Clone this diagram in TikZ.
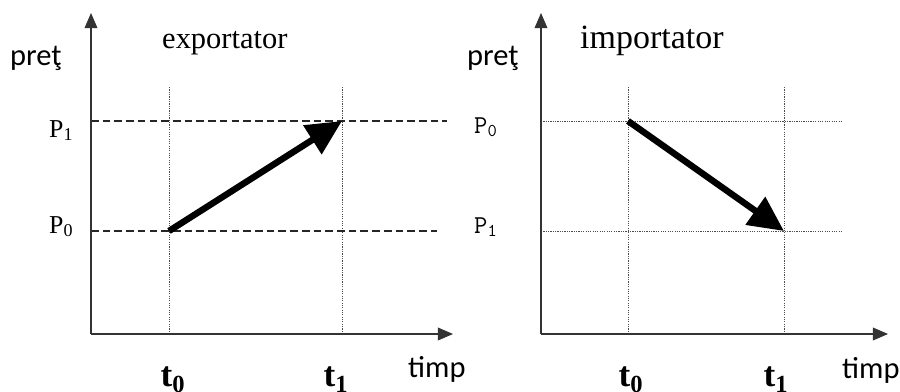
\documentclass[tikz,border=0pt]{standalone}
\usepackage{fontspec}
\setmainfont{Liberation Serif}
\setsansfont{Carlito}
\usetikzlibrary{arrows.meta}
\tikzset{
  axis/.style={draw=black!80, line width=0.9pt, -{Triangle[length=13pt, width=11pt]}},
  guide/.style={draw=black!70, line width=0.8pt, dash pattern=on 1pt off 1pt},
  level/.style={draw=black!85, line width=1.2pt, dash pattern=on 6.5pt off 3.5pt},
  move/.style={draw=black, line width=5.5pt, -{Triangle[length=30pt, width=28pt]}},
  ttl/.style={font=\fontsize{26}{30}\selectfont, anchor=base west, inner sep=0pt},
  ylab/.style={font=\sffamily\fontsize{26}{30}\selectfont, anchor=base west, inner sep=0pt},
  plab/.style={font=\fontsize{22}{26}\selectfont, anchor=base west, inner sep=0pt},
  pmono/.style={font=\ttfamily\fontsize{22}{26}\selectfont, anchor=base west, inner sep=0pt},
  tlab/.style={font=\bfseries\fontsize{30}{34}\selectfont, anchor=base, inner sep=0pt},
}
\begin{document}
\begin{tikzpicture}[x=0.03cm, y=-0.03cm]
  \useasboundingbox (0,0) rectangle (900,391);

  % left panel: exportator
  \coordinate (eO) at (91,334);
  \coordinate (eY) at (91,13);
  \coordinate (eX) at (453,334);
  \coordinate (eT0top) at (169,87);
  \coordinate (eT0bot) at (169,334);
  \coordinate (eT1top) at (342,87);
  \coordinate (eT1bot) at (342,334);
  \coordinate (eP1a) at (91,121);
  \coordinate (eP1b) at (447,121);
  \coordinate (eP0a) at (91,231);
  \coordinate (eP0b) at (437,231);
  \coordinate (eStart) at (169,231);
  \coordinate (eEnd) at (342,121);

  \draw[guide] (eT0top) -- (eT0bot);
  \draw[guide] (eT1top) -- (eT1bot);
  \draw[level] (eP1a) -- (eP1b);
  \draw[level] (eP0a) -- (eP0b);
  \draw[axis] (eO) -- (eY);
  \draw[axis] (eO) -- (eX);
  \draw[move] (eStart) -- (eEnd);

  \node[ylab] (ePret) at (10,65) {preţ};
  \node[ttl] (eTitle) at (162,48) {exportator};
  \node[plab] (eP1) at (49,137) {P\textsubscript{1}};
  \node[plab] (eP0) at (49,233) {P\textsubscript{0}};
  \node[tlab] (eT0) at (173,386) {t\textsubscript{0}};
  \node[tlab] (eT1) at (336,386) {t\textsubscript{1}};
  \node[ylab] (eTimp) at (408,377) {timp};

  % right panel: importator
  \coordinate (iO) at (541,334);
  \coordinate (iY) at (541,13);
  \coordinate (iX) at (888,334);
  \coordinate (iT0top) at (628,87);
  \coordinate (iT0bot) at (628,334);
  \coordinate (iT1top) at (784,87);
  \coordinate (iT1bot) at (784,334);
  \coordinate (iP0a) at (541,121);
  \coordinate (iP0b) at (842,121);
  \coordinate (iP1a) at (541,231);
  \coordinate (iP1b) at (842,231);
  \coordinate (iStart) at (628,121);
  \coordinate (iEnd) at (784,231);

  \draw[guide] (iT0top) -- (iT0bot);
  \draw[guide] (iT1top) -- (iT1bot);
  \draw[guide] (iP0a) -- (iP0b);
  \draw[guide] (iP1a) -- (iP1b);
  \draw[axis] (iO) -- (iY);
  \draw[axis] (iO) -- (iX);
  \draw[move] (iStart) -- (iEnd);

  \node[ylab] (iPret) at (467,65) {preţ};
  \node[ttl, font=\fontsize{29}{33}\selectfont] (iTitle) at (580,48) {importator};
  \node[pmono] (iP0) at (474,133) {P\textsubscript{0}};
  \node[pmono] (iP1) at (474,233) {P\textsubscript{1}};
  \node[tlab] (iT0) at (631,386) {t\textsubscript{0}};
  \node[tlab] (iT1) at (776,386) {t\textsubscript{1}};
  \node[ylab] (iTimp) at (842,378) {timp};
\end{tikzpicture}
\end{document}
